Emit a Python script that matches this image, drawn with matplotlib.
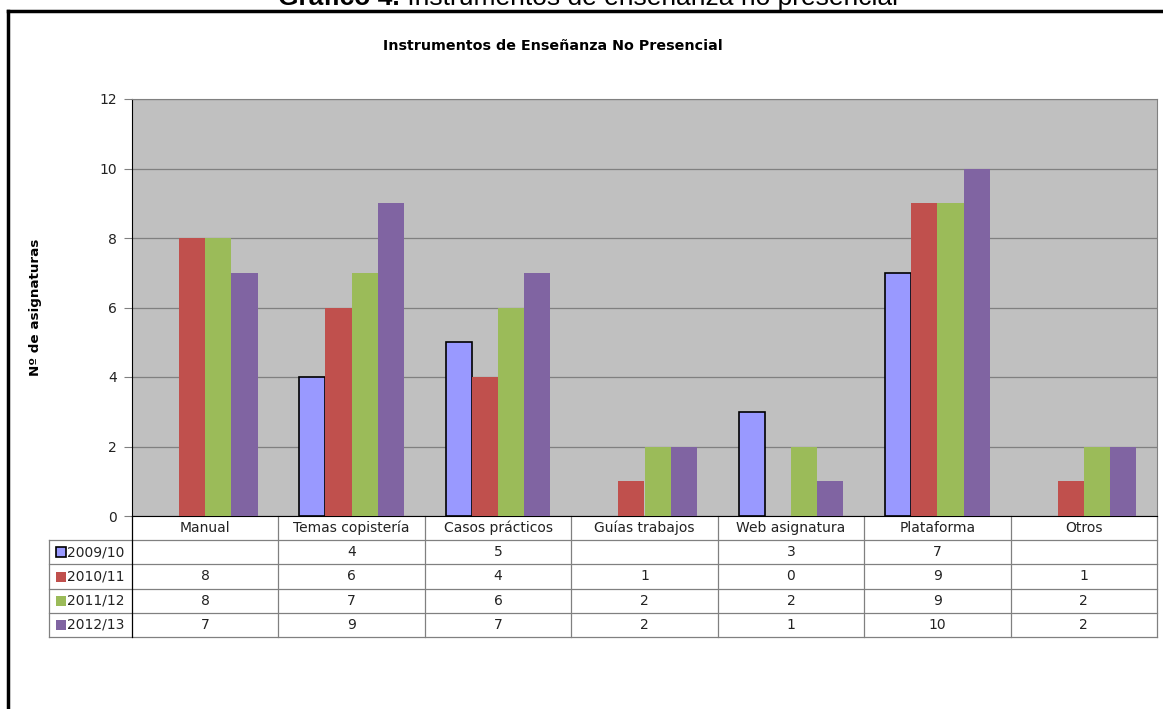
import numpy as np
import matplotlib
matplotlib.use('Agg')
import matplotlib.pyplot as plt
from matplotlib.lines import Line2D

categories = ['Manual', 'Temas copistería', 'Casos prácticos', 'Guías trabajos',
              'Web asignatura', 'Plataforma', 'Otros']
series = ['2009/10', '2010/11', '2011/12', '2012/13']
v0910 = [np.nan, 4, 5, np.nan, 3, 7, np.nan]
v1011 = [8, 6, 4, 1, 0, 9, 1]
v1112 = [8, 7, 6, 2, 2, 9, 2]
v1213 = [7, 9, 7, 2, 1, 10, 2]
values = [v0910, v1011, v1112, v1213]
colors = ['#9999FF', '#C0504D', '#9BBB59', '#8064A2']
edges = ['black', 'none', 'none', 'none']

W, H = 1163, 709
plt.rcParams['font.family'] = 'DejaVu Sans'
fig = plt.figure(figsize=(W / 100, H / 100), dpi=100)

# outer frame (top and left only, the rest is cropped)
fig.add_artist(Line2D([8 / W, 1], [1 - 11 / H, 1 - 11 / H], color='black', lw=2.5))
fig.add_artist(Line2D([8 / W, 8 / W], [1 - 11 / H, 0], color='black', lw=2.5))

# caption above the frame, partly cut off as in the source
t1 = fig.text(278 / W, 1 - 5 / H, 'Gráfico 4.', family='Liberation Sans',
              fontsize=19, fontweight='bold', va='baseline', ha='left')
ax0 = fig.add_axes([0, 0, 1, 1])
ax0.axis('off')
ax0.annotate(' Instrumentos de enseñanza no presencial', xy=(1, 0), xycoords=t1,
             family='Liberation Sans', fontsize=19, ha='left', va='bottom')

fig.text(553 / W, 1 - 46 / H, 'Instrumentos de Enseñanza No Presencial',
         fontsize=10.3, fontweight='bold', ha='center', va='center')

ax = fig.add_axes([132 / W, 1 - 516 / H, 1025 / W, 417 / H])
ax.set_facecolor('#C0C0C0')
x = np.arange(len(categories))
w = 0.179
for i, (vals, c, e) in enumerate(zip(values, colors, edges)):
    vals = np.array(vals, dtype=float)
    ok = ~np.isnan(vals)
    ax.bar(x[ok] + (i - 1.5) * w, vals[ok], w, color=c, edgecolor=e,
           linewidth=1.2 if e != 'none' else 0, zorder=3)

ax.set_xlim(-0.5, len(categories) - 0.5)
ax.set_ylim(0, 12)
ax.set_yticks(range(0, 13, 2))
ax.yaxis.grid(True, color='#808080', lw=0.9)
ax.set_axisbelow(True)
ax.set_xticks([])
ax.tick_params(axis='y', direction='out', length=6, color='#808080',
               labelsize=10, labelcolor='#222222', pad=5)
ax.spines['left'].set_color('black')
ax.spines['bottom'].set_color('black')
ax.spines['top'].set_color('#808080')
ax.spines['right'].set_color('#808080')
ax.set_ylabel('Nº de asignaturas', fontsize=9.7, fontweight='bold', labelpad=41)

# data table under the axes
rh = 24.2 / 417
legx = -83 / 1025
nrow = len(series)
xt = ax.get_xaxis_transform()
ta = ax.transAxes
gray = '#808080'
for k in range(1, nrow + 2):
    ax.add_line(Line2D([legx, 1], [-k * rh, -k * rh], color=gray, lw=0.9,
                       transform=ta, clip_on=False))
ax.add_line(Line2D([legx, legx], [-rh, -(nrow + 1) * rh], color=gray, lw=0.9,
                   transform=ta, clip_on=False))
ax.add_line(Line2D([0, 0], [0, -(nrow + 1) * rh], color='black', lw=0.9,
                   transform=ta, clip_on=False))
for b in x[1:] - 0.5:
    ax.add_line(Line2D([b, b], [0, -(nrow + 1) * rh], color=gray, lw=0.9,
                       transform=xt, clip_on=False))
ax.add_line(Line2D([1, 1], [0, -(nrow + 1) * rh], color=gray, lw=0.9,
                   transform=ta, clip_on=False))

for j, cat in enumerate(categories):
    ax.text(j, -rh / 2, cat, transform=xt, ha='center', va='center',
            fontsize=10, color='#222222')
for i, (s, vals) in enumerate(zip(series, values)):
    yc = -(i + 1.5) * rh
    ax.plot([legx + 12 / 1025], [yc], marker='s', markersize=7, color=colors[i],
            markeredgecolor='black' if edges[i] != 'none' else colors[i],
            markeredgewidth=1.2 if edges[i] != 'none' else 0,
            transform=ta, clip_on=False)
    ax.text(legx + 18 / 1025, yc, s, transform=ta, ha='left', va='center',
            fontsize=10, color='#222222')
    for j, v in enumerate(vals):
        if not np.isnan(v):
            ax.text(j, yc, str(int(v)), transform=xt, ha='center', va='center',
                    fontsize=10, color='#222222')

plt.savefig('out.png', dpi=100)
